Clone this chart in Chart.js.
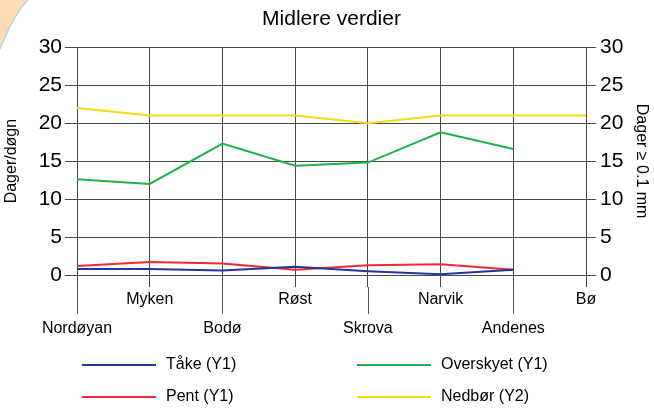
<!DOCTYPE html>
<html>
<head>
<meta charset="utf-8">
<title>Midlere verdier</title>
<script src="https://cdn.jsdelivr.net/npm/chart.js@4.4.1/dist/chart.umd.min.js"></script>
<style>
  body { margin: 0; background: #fff; }
  canvas { display: block; }
</style>
</head>
<body>
<canvas id="chart" width="654" height="408"></canvas>
<script>
// data
const stations = ['Nordøyan', 'Myken', 'Bodø', 'Røst', 'Skrova', 'Narvik', 'Andenes', 'Bø'];
const take = [0.8, 0.8, 0.6, 1.1, 0.5, 0.1, 0.7, null];
const pent = [1.2, 1.7, 1.5, 0.7, 1.3, 1.4, 0.7, null];
const overskyet = [12.6, 12.0, 17.3, 14.4, 14.8, 18.8, 16.6, null];
const nedbor = [22, 21, 21, 21, 20, 21, 21, 21];
const yTicks = [0, 5, 10, 15, 20, 25, 30];

Chart.defaults.font.family = '"Liberation Sans", Arial, sans-serif';
Chart.defaults.color = '#000';

const gridColor = '#4a4a4a';

// peach corner in the top left
const corner = {
    id: 'corner',
    beforeDraw(chart) {
        const ctx = chart.ctx;
        ctx.save();
        ctx.beginPath();
        ctx.moveTo(0, 0);
        ctx.lineTo(28, 0);
        ctx.quadraticCurveTo(14, 14, 0, 49);
        ctx.closePath();
        ctx.fillStyle = '#fddcb3';
        ctx.fill();
        ctx.beginPath();
        ctx.moveTo(28, 0);
        ctx.quadraticCurveTo(14, 14, 0, 49);
        ctx.strokeStyle = '#a9d9f2';
        ctx.lineWidth = 1.5;
        ctx.stroke();
        ctx.restore();
    }
};

// longer ticks under every other station, and the legend in two columns
const extras = {
    id: 'extras',
    afterDraw(chart) {
        const ctx = chart.ctx;
        const x = chart.scales.x;
        ctx.save();
        ctx.strokeStyle = '#5a5a5a';
        ctx.lineWidth = 1;
        for (let i = 0; i < stations.length; i += 2) {
            const px = Math.round(x.getPixelForTick(i)) + 0.5;
            ctx.beginPath();
            ctx.moveTo(px, x.top + 12);
            ctx.lineTo(px, x.top + 39);
            ctx.stroke();
        }
        const cols = [82, 357];
        const rows = [365, 397];
        ctx.font = '16px "Liberation Sans", Arial, sans-serif';
        ctx.textBaseline = 'middle';
        ctx.fillStyle = '#000';
        chart.data.datasets.forEach((ds, i) => {
            const lx = cols[i % 2];
            const ly = rows[Math.floor(i / 2)];
            ctx.beginPath();
            ctx.moveTo(lx, ly);
            ctx.lineTo(lx + 74, ly);
            ctx.strokeStyle = ds.borderColor;
            ctx.lineWidth = 2;
            ctx.stroke();
            ctx.fillText(ds.label, lx + 84, ly);
        });
        ctx.restore();
    }
};

const yTickCallback = v => (yTicks.includes(v) ? v : '');

new Chart(document.getElementById('chart'), {
    type: 'line',
    data: {
        labels: stations,
        datasets: [
            { label: 'Tåke (Y1)', data: take, borderColor: '#24349c', yAxisID: 'y' },
            { label: 'Overskyet (Y1)', data: overskyet, borderColor: '#1fb04c', yAxisID: 'y' },
            { label: 'Pent (Y1)', data: pent, borderColor: '#ee2a35', yAxisID: 'y' },
            { label: 'Nedbør (Y2)', data: nedbor, borderColor: '#f4dc12', yAxisID: 'y2' }
        ]
    },
    options: {
        responsive: false,
        animation: false,
        layout: { padding: { bottom: 67 } },
        elements: {
            line: { borderWidth: 2, tension: 0 },
            point: { radius: 0 }
        },
        plugins: {
            legend: { display: false },
            tooltip: { enabled: false },
            title: {
                display: true,
                text: 'Midlere verdier',
                fullSize: false,
                font: { size: 21, weight: 'normal' },
                padding: { top: 7, bottom: 15 }
            }
        },
        scales: {
            x: {
                offset: false,
                grid: { color: gridColor, tickColor: gridColor, tickLength: 12 },
                border: { color: gridColor },
                ticks: {
                    autoSkip: false,
                    maxRotation: 0,
                    padding: -2,
                    font: { size: 16, lineHeight: 29 / 16 },
                    callback: function (v, i) {
                        const s = this.getLabelForValue(v);
                        return i % 2 ? s : ['', s];
                    }
                }
            },
            y: {
                position: 'left',
                min: 0,
                max: 30,
                afterFit: s => { s.width = 77; },
                grid: {
                    color: gridColor,
                    tickLength: 12,
                    tickColor: c => (yTicks.includes(c.tick.value) ? gridColor : 'rgba(0,0,0,0)')
                },
                border: { color: gridColor },
                ticks: { stepSize: 2.5, padding: 3, font: { size: 21 }, callback: yTickCallback },
                title: { display: true, text: 'Dager/døgn', font: { size: 16 }, padding: 2 }
            },
            y2: {
                position: 'right',
                min: 0,
                max: 30,
                afterFit: s => { s.width = 68; },
                grid: {
                    drawOnChartArea: false,
                    tickLength: 10,
                    tickColor: c => (yTicks.includes(c.tick.value) ? gridColor : 'rgba(0,0,0,0)')
                },
                border: { color: gridColor },
                ticks: { stepSize: 2.5, padding: 4, font: { size: 21 }, callback: yTickCallback },
                title: { display: true, text: 'Dager ≥ 0.1 mm', font: { size: 16 }, padding: 3 }
            }
        }
    },
    plugins: [corner, extras]
});
</script>
</body>
</html>
